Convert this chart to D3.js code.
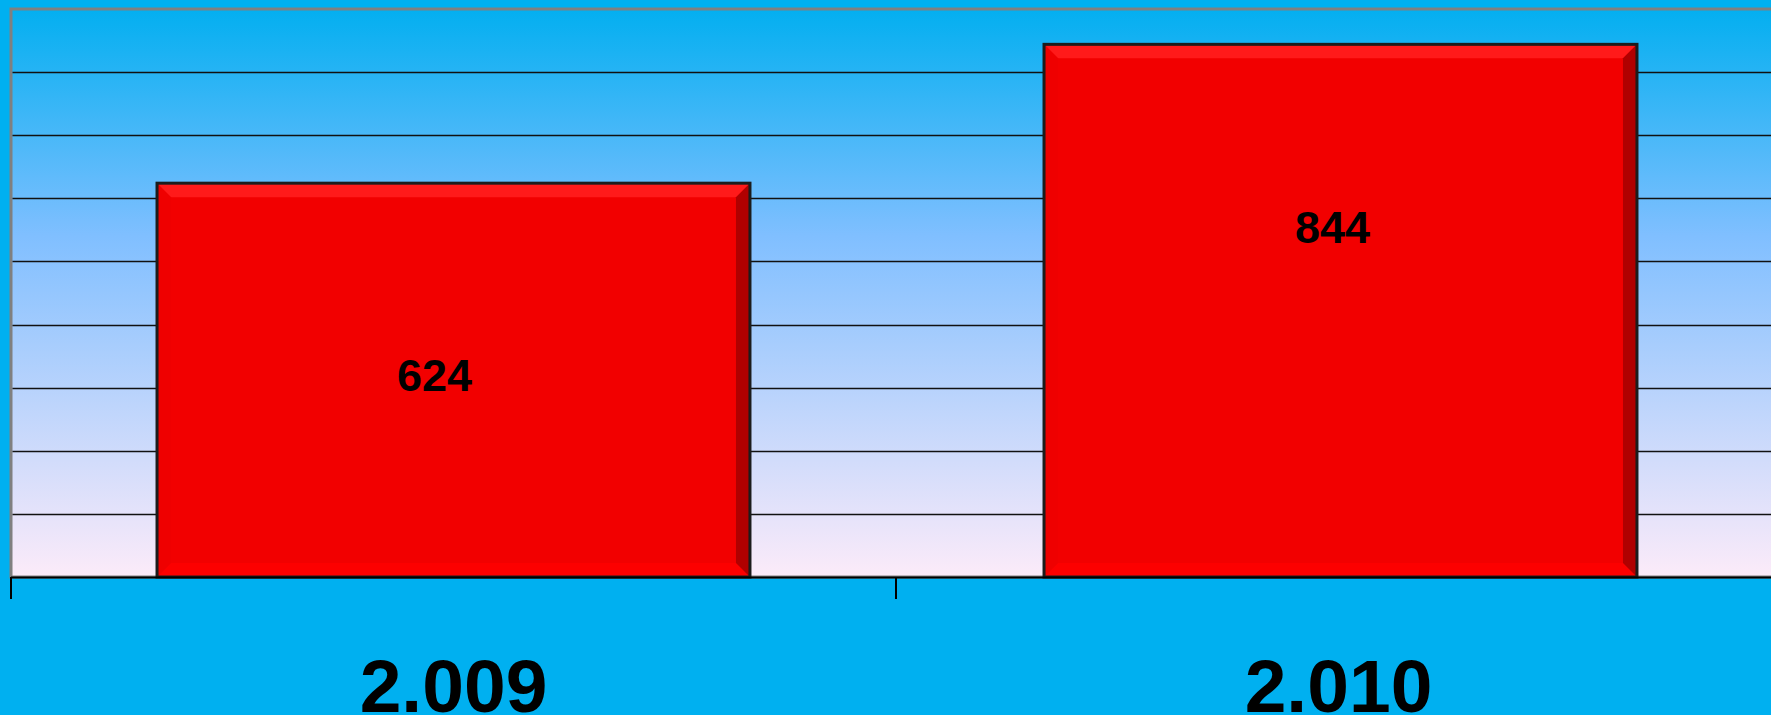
<!DOCTYPE html>
<html>
<head>
<meta charset="utf-8">
<script src="https://cdn.jsdelivr.net/npm/d3@7"></script>
<style>
  html, body { margin: 0; padding: 0; background: #00b0f0; overflow: hidden; }
  svg { display: block; }
</style>
</head>
<body>
<svg id="chart" width="1771" height="715"></svg>
<script>
// ---- data ----
const categories = ["2.009", "2.010"];
const values = [624, 844];
const valueLabels = ["624", "844"];
const gridTicks = [100, 200, 300, 400, 500, 600, 700, 800];

// ---- layout ----
const W = 1771, H = 715;
const plot = { left: 11, top: 9, right: 1781, bottom: 577 };

const svg = d3.select("#chart");

const defs = svg.append("defs");
const grad = defs.append("linearGradient")
  .attr("id", "bg").attr("x1", 0).attr("y1", 0).attr("x2", 0).attr("y2", 1);
grad.append("stop").attr("offset", "0%").attr("stop-color", "#03aff0");
grad.append("stop").attr("offset", "40%").attr("stop-color", "#80bfff");
grad.append("stop").attr("offset", "100%").attr("stop-color", "#fcebf9");

svg.append("rect").attr("width", W).attr("height", H).attr("fill", "#00b0f0");

const x = d3.scaleBand()
  .domain(categories)
  .range([plot.left, plot.right])
  .paddingInner(0.33)
  .paddingOuter(0.165);

const y = d3.scaleLinear().domain([0, 900]).range([plot.bottom, plot.top]);

// plot area
svg.append("rect")
  .attr("x", plot.left).attr("y", plot.top)
  .attr("width", plot.right - plot.left).attr("height", plot.bottom - plot.top)
  .attr("fill", "url(#bg)")
  .attr("stroke", "#808080").attr("stroke-width", 3);

// gridlines
svg.append("g").selectAll("line").data(gridTicks).join("line")
  .attr("x1", plot.left + 1.5).attr("x2", plot.right)
  .attr("y1", d => Math.round(y(d)) + 0.5).attr("y2", d => Math.round(y(d)) + 0.5)
  .attr("stroke", "#111").attr("stroke-width", 1.6);

// bars with bevel
const b = 14;
const barShift = [0, 2];
const barG = svg.append("g").selectAll("g").data(values).join("g");
barG.each(function(v, i) {
  const g = d3.select(this);
  const x0 = x(categories[i]) + barShift[i], x1 = x0 + x.bandwidth();
  const y0 = y(v), y1 = y(0);
  g.append("rect").attr("x", x0).attr("y", y0).attr("width", x1 - x0).attr("height", y1 - y0)
    .attr("fill", "#f20000");
  const poly = (pts, fill) => g.append("polygon").attr("points", pts.map(p => p.join(",")).join(" ")).attr("fill", fill);
  poly([[x0, y0], [x1, y0], [x1 - b, y0 + b], [x0 + b, y0 + b]], "#ff1a1a");
  poly([[x0, y1], [x1, y1], [x1 - b, y1 - b], [x0 + b, y1 - b]], "#fc0000");
  poly([[x1, y0], [x1, y1], [x1 - b, y1 - b], [x1 - b, y0 + b]], "#b00000");
  poly([[x0, y0], [x0, y1], [x0 + b, y1 - b], [x0 + b, y0 + b]], "#ef0000");
  g.append("rect").attr("x", x0).attr("y", y0).attr("width", x1 - x0).attr("height", y1 - y0)
    .attr("fill", "none").attr("stroke", "#1c1c1c").attr("stroke-width", 3);
});

// value labels
const labelDx = [-19, -6];
const labelDy = [192, 183];
svg.append("g").selectAll("text").data(values).join("text")
  .attr("x", (d, i) => x(categories[i]) + x.bandwidth() / 2 + labelDx[i])
  .attr("y", (d, i) => y(d) + labelDy[i])
  .attr("text-anchor", "middle")
  .attr("dominant-baseline", "central")
  .attr("font-family", "Liberation Sans, Arial, sans-serif")
  .attr("font-weight", "bold")
  .attr("font-size", 45)
  .attr("fill", "#000")
  .text((d, i) => valueLabels[i]);

// x axis
const axisY = plot.bottom;
svg.append("line").attr("x1", plot.left).attr("x2", plot.right)
  .attr("y1", axisY + 0.5).attr("y2", axisY + 0.5)
  .attr("stroke", "#000").attr("stroke-width", 2);
const tickXs = categories.map(c => x(c) - x.step() * x.paddingOuter()).concat([plot.right]);
svg.append("g").selectAll("line").data(tickXs).join("line")
  .attr("x1", d => d).attr("x2", d => d)
  .attr("y1", axisY).attr("y2", axisY + 22)
  .attr("stroke", "#000").attr("stroke-width", 2);

// category labels
svg.append("g").selectAll("text").data(categories).join("text")
  .attr("x", d => x(d) + x.bandwidth() / 2)
  .attr("y", 712)
  .attr("text-anchor", "middle")
  .attr("font-family", "Liberation Sans, Arial, sans-serif")
  .attr("font-weight", "bold")
  .attr("font-size", 75)
  .attr("fill", "#000")
  .text(d => d);
</script>
</body>
</html>
